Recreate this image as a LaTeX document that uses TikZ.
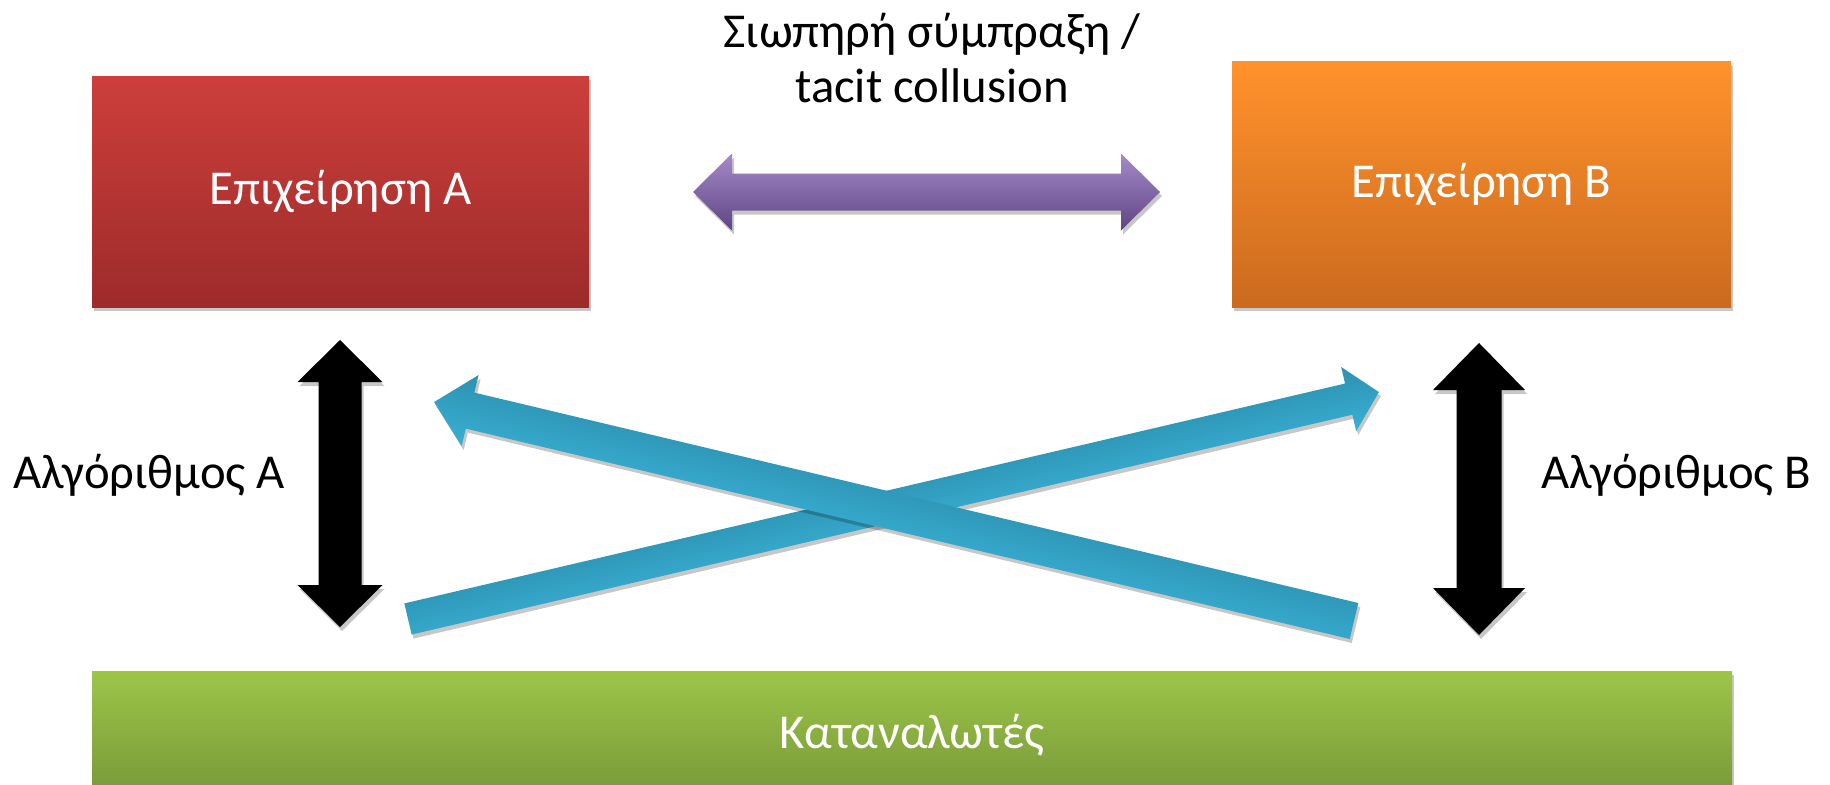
\documentclass[tikz,border=0pt]{standalone}
\usepackage{fontspec}
\setmainfont{Carlito}
\usetikzlibrary{calc,shadows}

\definecolor{redTop}{HTML}{CD3F3B}
\definecolor{redBot}{HTML}{9C2B2A}
\definecolor{orgTop}{HTML}{FF922C}
\definecolor{orgBot}{HTML}{CB6A1E}
\definecolor{grnTop}{HTML}{9DC548}
\definecolor{grnBot}{HTML}{769739}
\definecolor{purTop}{HTML}{A68ACB}
\definecolor{purMid}{HTML}{7F62A6}
\definecolor{purBot}{HTML}{5E4581}
\definecolor{bluLight}{HTML}{38AFD3}
\definecolor{bluDark}{HTML}{2D91B1}

% Block arrow with one head, drawn along its own axis so that the shading
% runs across the shaft: style, tail, tip, half shaft width, half head width, head length
\newcommand\fatarrow[6]{%
  \path let \p1=($(#3)-(#2)$) in
    \pgfextra{\pgfmathparse{veclen(\x1,\y1)}\xdef\faLen{\pgfmathresult}%
              \pgfmathparse{atan2(\y1,\x1)}\xdef\faAng{\pgfmathresult}};
  \begin{scope}[transform canvas={shift={(#2)}, rotate=\faAng}]
    \path[#1] (0,#4) -- (\faLen-#6,#4) -- (\faLen-#6,#5) -- (\faLen,0)
      -- (\faLen-#6,-#5) -- (\faLen-#6,-#4) -- (0,-#4) -- cycle;
  \end{scope}
}
% Block arrow with a head at both ends
\newcommand\fatdoublearrow[6]{%
  \coordinate (fd-a) at (#2);
  \coordinate (fd-b) at (#3);
  \coordinate (fd-ba) at ($(fd-a)!#6!(fd-b)$);
  \coordinate (fd-bb) at ($(fd-b)!#6!(fd-a)$);
  \path[#1] (fd-a) -- ($(fd-ba)!#5!90:(fd-b)$) -- ($(fd-ba)!#4!90:(fd-b)$)
    -- ($(fd-bb)!#4!90:(fd-b)$) -- ($(fd-bb)!#5!90:(fd-b)$) -- (fd-b)
    -- ($(fd-bb)!#5!-90:(fd-b)$) -- ($(fd-bb)!#4!-90:(fd-b)$)
    -- ($(fd-ba)!#4!-90:(fd-b)$) -- ($(fd-ba)!#5!-90:(fd-b)$) -- cycle;
}

\tikzset{
  softshadow/.style={drop shadow={shadow xshift=2pt, shadow yshift=-4pt, opacity=0.22, fill=black}},
  firm/.style={rectangle, inner sep=0pt, text=white, softshadow,
    font=\fontsize{48.7pt}{52pt}\selectfont},
  lbl/.style={inner sep=0pt, text=black, font=\fontsize{48.7pt}{52pt}\selectfont},
  titlelbl/.style={inner sep=0pt, text=black, align=center,
    font=\fontsize{48.7pt}{55pt}\selectfont},
  blockblack/.style={fill=black, softshadow},
  blockpurple/.style={top color=purTop, middle color=purMid, bottom color=purBot, softshadow},
  % the shadow offsets are given in each arrow's own rotated frame
  blocktoB/.style={top color=bluDark, bottom color=bluLight,
    drop shadow={shadow xshift=1.0pt, shadow yshift=-4.3pt, opacity=0.22, fill=black}},
  blocktoA/.style={top color=bluLight, bottom color=bluDark,
    drop shadow={shadow xshift=-2.9pt, shadow yshift=3.4pt, opacity=0.22, fill=black}},
}

\begin{document}
\begin{tikzpicture}[x=1pt, y=-1pt]
  \clip (0,0) rectangle (1830,784);
  \fill[white] (0,0) rectangle (1830,784);

  % firms and consumers
  \node[firm, top color=redTop, bottom color=redBot,
        minimum width=497pt, minimum height=231pt] (firmA) at (340.5,191.5) {Επιχείρηση A};
  \node[firm, top color=orgTop, bottom color=orgBot,
        minimum width=499pt, minimum height=245pt] (firmB) at (1481.5,184.5) {Επιχείρηση B};
  \node[firm, top color=grnTop, bottom color=grnBot,
        minimum width=1640pt, minimum height=129pt] (cons) at (912,735.5) {Καταναλωτές};

  % labels
  \node[titlelbl] (tacit) at (932,58) {Σιωπηρή σύμπραξη /\\tacit collusion};
  \node[lbl, anchor=base west] (algA) at (13,488) {Αλγόριθμος A};
  \node[lbl, anchor=base west] (algB) at (1541,488) {Αλγόριθμος B};

  % arrow end points
  \coordinate (colL) at (693,192);
  \coordinate (colR) at (1160,192);
  \coordinate (aTop) at (340,340);
  \coordinate (aBot) at (340,627);
  \coordinate (bTop) at (1479,343);
  \coordinate (bBot) at (1479,635);
  \coordinate (upB-s) at (408,619);
  \coordinate (upB-t) at (1379,392);
  \coordinate (upA-s) at (1354,621);
  \coordinate (upA-t) at (434,402);

  % collusion between the firms
  \fatdoublearrow{blockpurple}{colL}{colR}{18.5pt}{38.5pt}{39pt}

  % each firm's algorithm and the consumers
  \fatdoublearrow{blockblack}{aTop}{aBot}{21.5pt}{42.5pt}{42pt}
  \fatdoublearrow{blockblack}{bTop}{bBot}{22.5pt}{46pt}{47pt}

  % crossing arrows
  \fatarrow{blocktoB}{upB-s}{upB-t}{16}{33}{31}
  \fatarrow{blocktoA}{upA-s}{upA-t}{18.5}{36.5}{37}
\end{tikzpicture}
\end{document}
